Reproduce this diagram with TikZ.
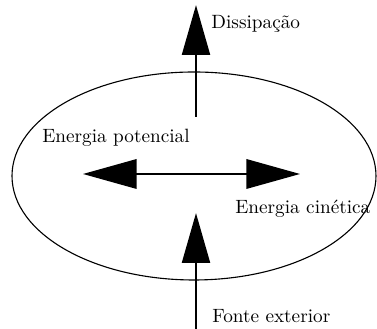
\documentclass[tikz,border=0pt]{standalone}
\usetikzlibrary{arrows.meta}

\tikzset{
  label text/.style={anchor=base west, inner sep=0pt, font=\fontsize{10.4}{12}\selectfont},
  flow arrow/.style={line width=1.6pt, -{Triangle[length=27pt,width=15pt]}},
  exchange arrow/.style={line width=0.8pt, {Triangle[length=29pt,width=16pt]}-{Triangle[length=29pt,width=16pt]}}
}

\begin{document}
\begin{tikzpicture}
\useasboundingbox (0,0) rectangle (7.163,6.251);

% System Ellipse
\draw[line width=0.6pt] (3.686,2.907) ellipse [x radius=3.458, y radius=1.976];

% Dissipation Arrow
\coordinate (dissStart) at (3.724,4.028);
\coordinate (dissEnd) at (3.724,6.156);
\draw[flow arrow] (dissStart) -- (dissEnd);
\node[label text] (diss) at (4.01,5.70) {Dissipação};

% Exchange Arrow
\coordinate (potEnd) at (1.577,2.945);
\coordinate (kinEnd) at (5.700,2.945);
\draw[exchange arrow] (potEnd) -- (kinEnd);
\node[label text] (pot) at (0.798,3.534) {Energia potencial};
\node[label text] (kin) at (4.465,2.185) {Energia cinética};

% External Source Arrow
\coordinate (srcStart) at (3.724,0);
\coordinate (srcEnd) at (3.724,2.204);
\draw[flow arrow] (srcStart) -- (srcEnd);
\node[label text] (src) at (4.028,0.114) {Fonte exterior};

\end{tikzpicture}
\end{document}
